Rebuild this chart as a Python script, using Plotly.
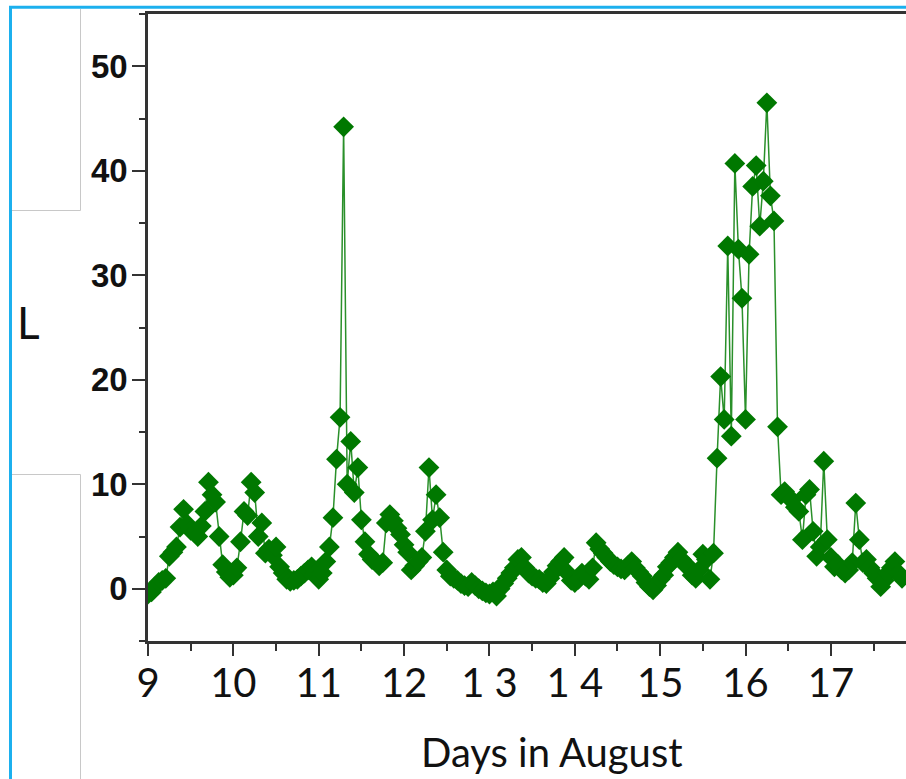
import numpy as np
import plotly.graph_objects as go

# Hourly series, one list per day in August (first sample at 00:00 of day 9)
day9 = [-0.5, -0.3, 0.2, 0.6, 0.8, 1.0, 3.1, 3.5, 4.0, 5.9, 7.6, 6.2, 5.6, 5.4, 5.0, 6.0,
        7.4, 10.2, 9.0, 8.3, 5.0, 2.3, 1.6, 1.1]
day10 = [1.3, 2.0, 4.5, 7.4, 7.0, 10.2, 9.2, 5.0, 6.3, 3.4, 3.8, 3.2, 4.0, 2.1, 1.5, 0.9,
         0.7, 0.8, 0.9, 1.2, 1.5, 1.8, 2.1, 1.4]
day11 = [0.9, 1.5, 2.6, 4.0, 6.8, 12.4, 16.4, 44.2, 10.0, 14.1, 9.2, 11.6, 6.6, 4.5, 3.3, 2.8,
         2.6, 2.2, 2.5, 6.3, 7.1, 6.5, 5.8, 5.2]
day12 = [4.2, 3.5, 1.8, 2.2, 2.6, 3.0, 5.5, 11.6, 6.6, 9.0, 6.8, 3.5, 1.8, 1.2, 1.0, 0.8,
         0.5, 0.3, 0.2, 0.6, 0.3, 0.0, -0.2, -0.4]
day13 = [-0.5, -0.3, -0.7, 0.0, 0.5, 1.0, 1.5, 2.0, 2.8, 3.0, 2.0, 1.5, 1.2, 1.0, 0.9, 0.6,
         0.5, 1.0, 1.6, 2.2, 2.6, 3.0, 1.5, 0.8]
day14 = [0.6, 0.9, 1.5, 1.2, 0.9, 2.0, 4.4, 3.8, 3.4, 3.0, 2.6, 2.3, 2.1, 1.9, 1.8, 2.2,
         2.6, 2.0, 1.6, 1.2, 0.6, 0.2, -0.1, 0.3]
day15 = [0.9, 1.3, 2.1, 2.5, 3.0, 3.5, 2.8, 2.3, 2.1, 1.3, 1.0, 1.8, 3.3, 2.8, 0.9, 3.4,
         12.5, 20.3, 16.2, 32.8, 14.6, 40.7, 32.5, 27.8]
day16 = [16.2, 32.0, 38.5, 40.5, 34.7, 39.0, 46.5, 37.6, 35.2, 15.5, 9.0, 9.3, 8.8, 8.5, 7.8, 7.4,
         4.7, 9.0, 9.5, 5.5, 3.1, 4.0, 12.2, 4.7]
day17 = [3.0, 2.1, 2.3, 1.8, 1.5, 1.8, 2.5, 8.2, 4.7, 2.5, 2.8, 2.0, 1.5, 1.0, 0.2, 0.8,
         1.5, 2.0, 2.6, 1.5, 1.0]

first_day = 9
samples_per_day = 24
values = day9 + day10 + day11 + day12 + day13 + day14 + day15 + day16 + day17
days = first_day + np.arange(len(values)) / samples_per_day

x_tick_vals = [9, 10, 11, 12, 13, 14, 15, 16, 17]
x_tick_text = ["9", "10", "11", "12", "1 3", "1 4", "15", "16", "17"]
y_tick_vals = [0, 10, 20, 30, 40, 50]
y_tick_text = ["0", "10", "20", "30", "40", "50"]

W, H = 906, 779
L, R, T, B = 148, 0, 14, 138
PW, PH = W - L - R, H - T - B


def px(xp):
    return (xp - L) / PW


def py(yp):
    return (H - B - yp) / PH


fig = go.Figure()
fig.add_trace(go.Scatter(
    x=days, y=values, mode="lines+markers",
    line=dict(color="#2a902a", width=1.5),
    marker=dict(symbol="diamond", size=16, color="#007800", line=dict(width=0)),
    showlegend=False,
))

axis_col = "#333333"
fig.update_xaxes(
    range=[9, 17.88], tickmode="array", tickvals=x_tick_vals, ticktext=x_tick_text,
    ticks="outside", ticklen=12, tickwidth=2, tickcolor=axis_col,
    showline=True, linewidth=2.5, linecolor=axis_col, mirror=True,
    showgrid=False, zeroline=False,
    tickfont=dict(family="Lato", size=40, color="#111111"),
    ticklabelstandoff=-7,
    minor=dict(tickmode="linear", tick0=9, dtick=0.5, ticks="outside", ticklen=7,
               tickwidth=2, tickcolor=axis_col, showgrid=False),
)
fig.update_yaxes(
    range=[-5, 55], tickmode="array", tickvals=y_tick_vals, ticktext=y_tick_text,
    ticks="outside", ticklen=13, tickwidth=2, tickcolor=axis_col,
    showline=True, linewidth=2.5, linecolor=axis_col,
    showgrid=False, zeroline=False,
    tickfont=dict(family="Liberation Sans", size=33, color="#111111", weight="bold"),
    ticklabelstandoff=-2,
    minor=dict(tickmode="linear", tick0=-5, dtick=5, ticks="outside", ticklen=6,
               tickwidth=2, tickcolor=axis_col, showgrid=False),
)

shapes = []
blue = "#1cb0ee"
gray = "#c8c8c8"
# outer blue frame (left and top)
shapes.append(dict(type="line", xref="paper", yref="paper", x0=px(10.5), x1=px(10.5), y0=py(6), y1=py(H),
                   line=dict(color=blue, width=3)))
shapes.append(dict(type="line", xref="paper", yref="paper", x0=px(9), x1=px(W), y0=py(7.2), y1=py(7.2),
                   line=dict(color=blue, width=3)))
# thin gray boxes at the left
shapes.append(dict(type="line", xref="paper", yref="paper", x0=px(80.5), x1=px(80.5), y0=py(9), y1=py(210.5),
                   line=dict(color=gray, width=1)))
shapes.append(dict(type="line", xref="paper", yref="paper", x0=px(12), x1=px(80.5), y0=py(210.5), y1=py(210.5),
                   line=dict(color=gray, width=1)))
shapes.append(dict(type="line", xref="paper", yref="paper", x0=px(12), x1=px(80.5), y0=py(474.5), y1=py(474.5),
                   line=dict(color=gray, width=1)))
shapes.append(dict(type="line", xref="paper", yref="paper", x0=px(80.5), x1=px(80.5), y0=py(474.5), y1=py(H),
                   line=dict(color=gray, width=1)))

annotations = [
    dict(text="Days in August", xref="paper", yref="paper", x=px(552), y=py(752),
         xanchor="center", yanchor="middle", showarrow=False,
         font=dict(family="Lato", size=40, color="#111111")),
    dict(text="L", xref="paper", yref="paper", x=px(15), y=py(322),
         xanchor="left", yanchor="middle", showarrow=False,
         font=dict(family="Lato", size=44, color="#111111")),
]

fig.update_layout(
    width=W, height=H, margin=dict(l=L, r=R, t=T, b=B, pad=0),
    paper_bgcolor="white", plot_bgcolor="white",
    shapes=shapes, annotations=annotations,
)

fig.write_html(
    "out.html",
    config={"displayModeBar": False},
    post_script="document.body.style.margin='0';document.body.style.overflow='hidden';",
)
